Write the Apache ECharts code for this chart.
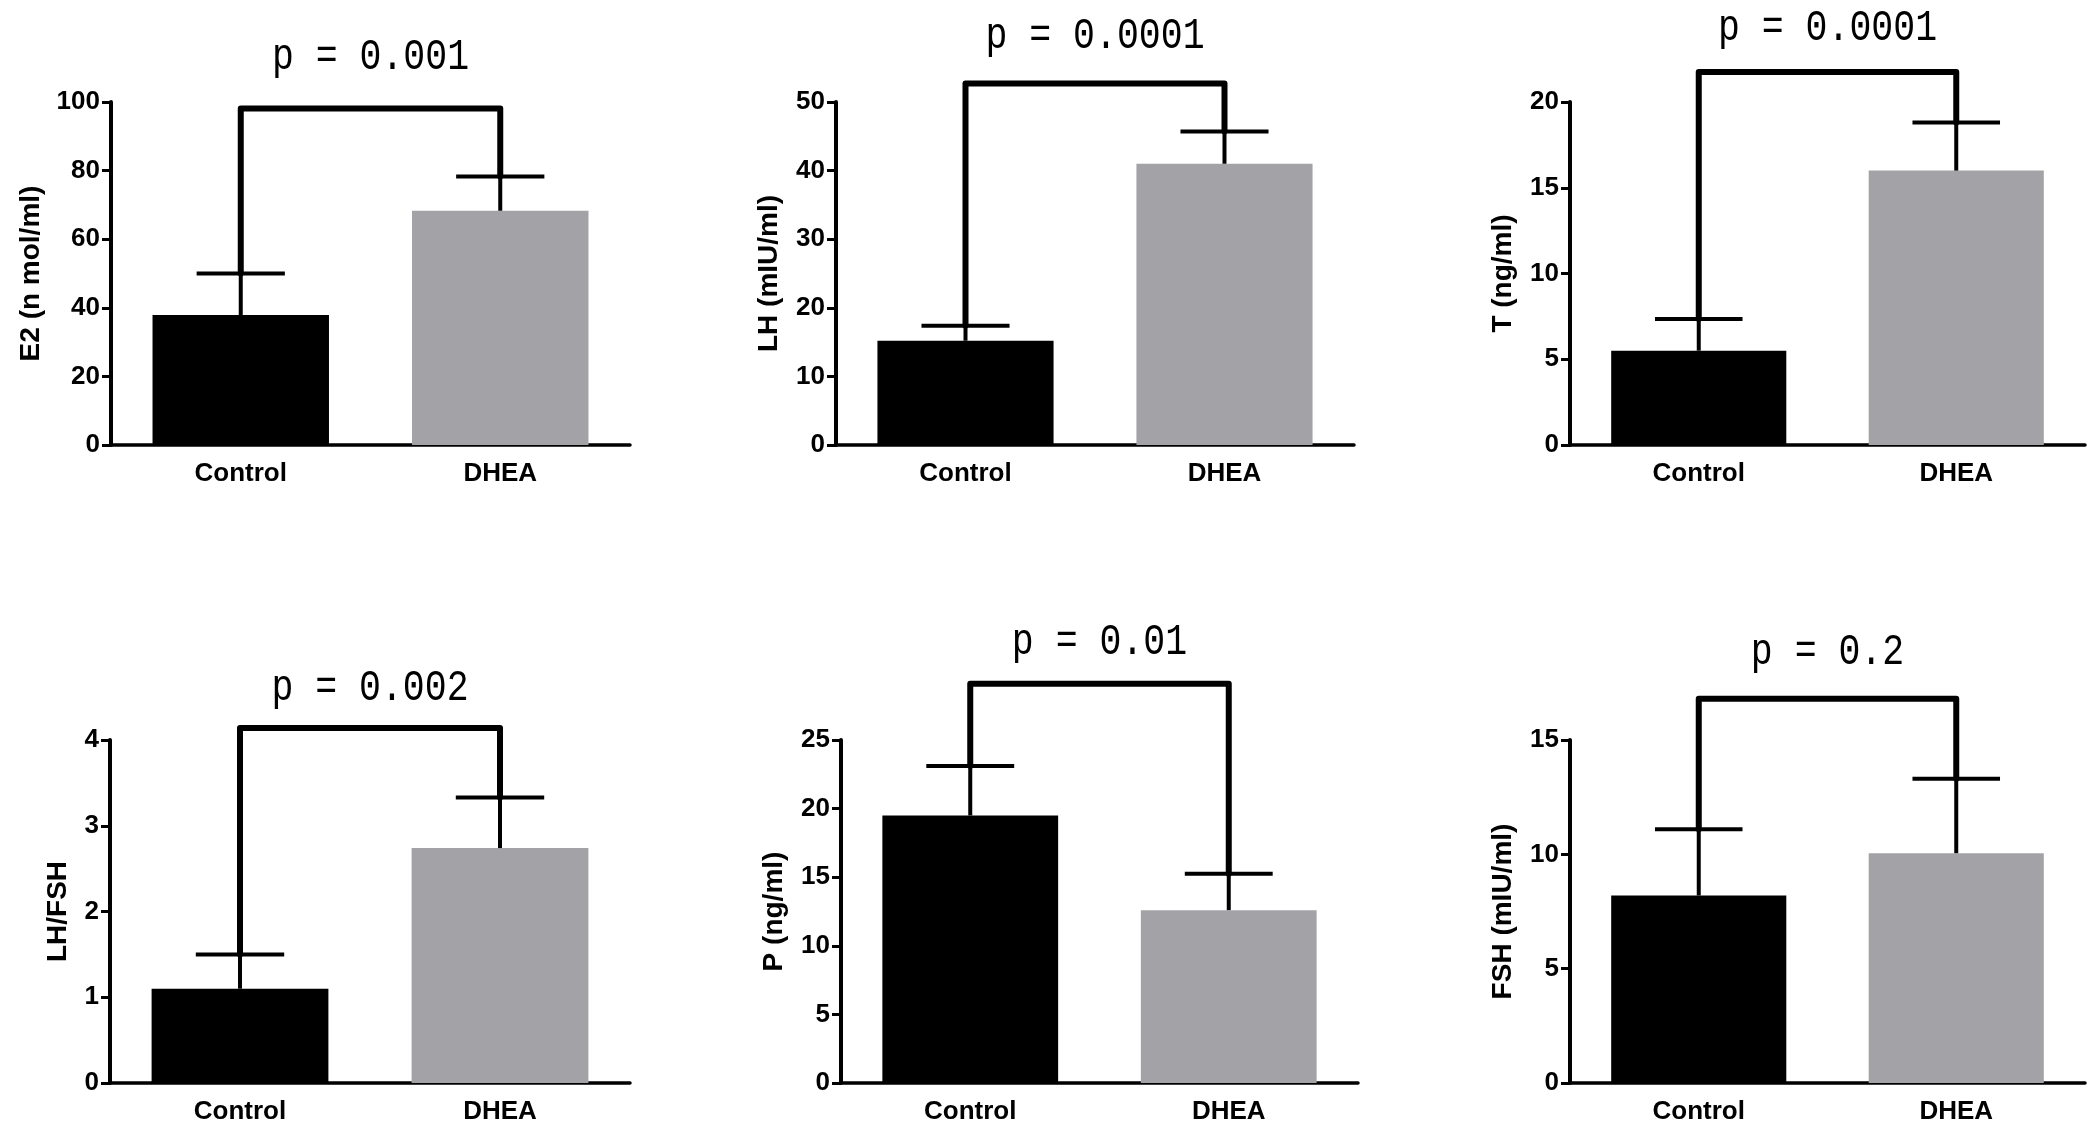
<!DOCTYPE html>
<html>
<head>
<meta charset="utf-8">
<script src="https://cdn.jsdelivr.net/npm/echarts@6/dist/echarts.min.js"></script>
<style>
  html, body { margin: 0; padding: 0; background: #fff; }
  #chart { width: 2100px; height: 1132px; }
</style>
</head>
<body>
<div id="chart"></div>
<script>
// DATA
const groups = ['Control', 'DHEA'];
const yNames = ['E2 (n mol/ml)', 'LH (mIU/ml)', 'T (ng/ml)', 'LH/FSH', 'P (ng/ml)', 'FSH (mIU/ml)'];
const pLabels = ['p = 0.001', 'p = 0.0001', 'p = 0.0001', 'p = 0.002', 'p = 0.01', 'p = 0.2'];

const e2Mean = [37.9, 68.3];
const e2Sd = [12.1, 10.0];
const lhMean = [15.2, 41.0];
const lhSd = [2.2, 4.7];
const tMean = [5.5, 16.0];
const tSd = [1.85, 2.8];
const ratioMean = [1.1, 2.74];
const ratioSd = [0.4, 0.59];
const pMean = [19.5, 12.6];
const pSd = [3.6, 2.65];
const fshMean = [8.2, 10.05];
const fshSd = [2.9, 3.25];

const allMeans = [e2Mean, lhMean, tMean, ratioMean, pMean, fshMean];
const allSds = [e2Sd, lhSd, tSd, ratioSd, pSd, fshSd];
const bracketLevels = [98.1, 52.7, 21.75, 4.14, 29.1, 16.8];

const yMax = [100, 50, 20, 4, 25, 15];
const yStep = [20, 10, 5, 1, 5, 5];

// LAYOUT
const gridBoxes = [
    { left: 111, top: 102, width: 519, height: 343 },
    { left: 836, top: 102, width: 518, height: 343 },
    { left: 1570, top: 102, width: 515, height: 343 },
    { left: 110, top: 740, width: 520, height: 343 },
    { left: 841, top: 740, width: 517, height: 343 },
    { left: 1570, top: 740, width: 515, height: 343 }
];
const titleY = [57, 36, 28, 688, 642, 652];
const nameGaps = [66, 53, 53, 38, 53, 53];

const barColors = ['#000000', '#a3a3a7'];
const sansFont = "'Liberation Sans', Arial, sans-serif";

const chart = echarts.init(document.getElementById('chart'));

const grids = [];
const xAxes = [];
const yAxes = [];
const series = [];
const graphics = [];

gridBoxes.forEach((box, i) => {
    grids.push(Object.assign({ containLabel: false }, box));

    xAxes.push({
        type: 'category',
        gridIndex: i,
        data: groups,
        axisLine: { lineStyle: { color: '#000', width: 3.5 } },
        axisTick: { alignWithLabel: true, length: 9, lineStyle: { color: '#000', width: 3 } },
        axisLabel: { color: '#000', fontFamily: sansFont, fontWeight: 'bold', fontSize: 26, margin: 16 },
        splitLine: { show: false }
    });

    yAxes.push({
        type: 'value',
        gridIndex: i,
        min: 0,
        max: yMax[i],
        interval: yStep[i],
        name: yNames[i],
        nameLocation: 'middle',
        nameGap: nameGaps[i],
        nameTextStyle: { color: '#000', fontFamily: sansFont, fontWeight: 'bold', fontSize: 28 },
        axisLine: { show: true, lineStyle: { color: '#000', width: 4 } },
        axisTick: { show: true, length: 9, lineStyle: { color: '#000', width: 3 } },
        axisLabel: { color: '#000', fontFamily: sansFont, fontWeight: 'bold', fontSize: 26, margin: 11 },
        splitLine: { show: false }
    });

    const means = allMeans[i];
    const sds = allSds[i];

    series.push({
        type: 'bar',
        xAxisIndex: i,
        yAxisIndex: i,
        barWidth: '68%',
        data: means.map((v, k) => ({ value: v, itemStyle: { color: barColors[k] } })),
        z: 2
    });

    // error bars (upper only)
    series.push({
        type: 'custom',
        xAxisIndex: i,
        yAxisIndex: i,
        data: means.map((v, k) => [k, v, v + sds[k]]),
        renderItem: function (params, api) {
            const low = api.coord([api.value(0), api.value(1)]);
            const high = api.coord([api.value(0), api.value(2)]);
            const half = api.size([1, 0])[0] * 0.68 / 4;
            const style = { stroke: '#000', lineWidth: 4 };
            return {
                type: 'group',
                children: [
                    { type: 'line', shape: { x1: low[0], y1: low[1], x2: high[0], y2: high[1] }, style: style },
                    { type: 'line', shape: { x1: high[0] - half, y1: high[1], x2: high[0] + half, y2: high[1] }, style: style }
                ]
            };
        },
        z: 3
    });

    // significance bracket
    const level = bracketLevels[i];
    series.push({
        type: 'line',
        xAxisIndex: i,
        yAxisIndex: i,
        clip: false,
        symbol: 'none',
        lineStyle: { color: '#000', width: 6, cap: 'round', join: 'round' },
        data: [[0, means[0] + sds[0]], [0, level], [1, level], [1, means[1] + sds[1]]],
        z: 4
    });

    graphics.push({
        type: 'text',
        x: box.left + box.width / 2,
        y: titleY[i],
        scaleX: 0.83,
        style: {
            text: pLabels[i],
            fill: '#000',
            font: "44px 'Liberation Mono', 'Courier New', monospace",
            textAlign: 'center',
            textVerticalAlign: 'middle'
        }
    });
});

chart.setOption({
    backgroundColor: '#fff',
    animation: false,
    grid: grids,
    xAxis: xAxes,
    yAxis: yAxes,
    series: series,
    graphic: graphics
});
</script>
</body>
</html>
